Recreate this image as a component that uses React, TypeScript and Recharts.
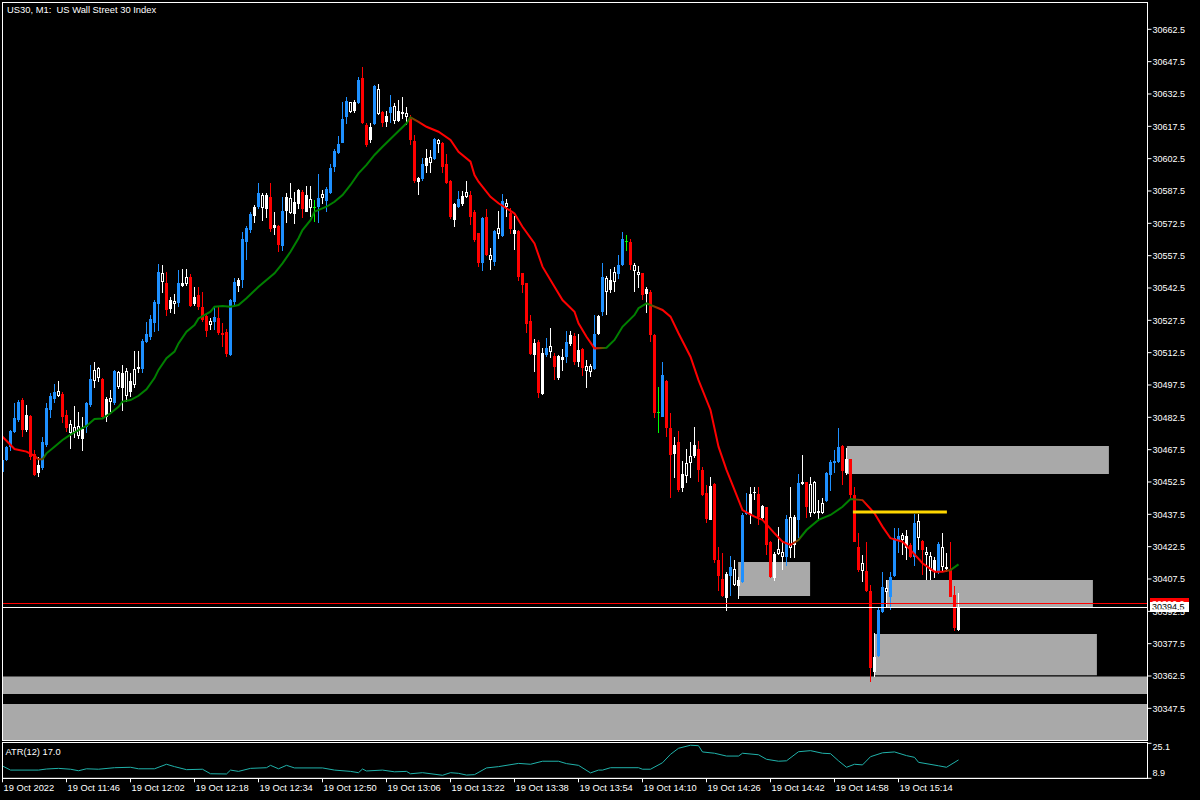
import { ComposedChart, Bar, Line, XAxis, YAxis, ReferenceArea, ReferenceLine } from 'recharts'

const BLUE = '#1E90FF'
const RED = '#FF0000'
const WHITE = '#FFFFFF'
const LIME = '#00FF00'
const ZONE = '#A9A9A9'
const MA_UP = '#008000'
const MA_DN = '#FF0000'
const ATR_COLOR = '#20B2AA'
const FONT = '"Liberation Sans", Arial, sans-serif'

// one row per minute bar, 11:30 .. 15:29 : [open, high, low, close]
const ohlc: number[][] = [
  [30457.1, 30463.6, 30456.7, 30462.7], [30462.7, 30469.2, 30462.4, 30468.9], [30468.9, 30476.6, 30467.0, 30476.1], [30475.8, 30489.0, 30475.2, 30482.0], [30481.3, 30490.5, 30480.5, 30489.7],
  [30490.5, 30491.6, 30473.5, 30476.6], [30476.6, 30488.2, 30475.8, 30483.6], [30483.3, 30483.6, 30462.7, 30464.2], [30465.5, 30467.3, 30455.2, 30455.7], [30456.8, 30464.1, 30455.0, 30460.4],
  [30458.8, 30473.2, 30458.1, 30471.2], [30469.7, 30489.0, 30468.9, 30486.7], [30485.9, 30493.7, 30482.0, 30492.4], [30490.9, 30498.0, 30489.0, 30494.4], [30494.7, 30499.4, 30492.1, 30492.5],
  [30493.3, 30494.4, 30479.7, 30482.8], [30483.6, 30485.9, 30475.8, 30477.4], [30479.4, 30481.3, 30467.8, 30475.4], [30478.2, 30487.8, 30472.9, 30475.8], [30478.5, 30485.0, 30472.4, 30474.0],
  [30472.3, 30482.8, 30467.0, 30477.1], [30478.2, 30489.7, 30475.4, 30489.0], [30488.2, 30506.8, 30487.4, 30500.3], [30504.5, 30508.0, 30495.9, 30499.5], [30505.2, 30506.0, 30498.7, 30500.9],
  [30500.3, 30500.6, 30482.0, 30482.8], [30482.8, 30492.1, 30480.2, 30491.0], [30491.5, 30495.2, 30484.8, 30489.7], [30489.0, 30504.5, 30488.2, 30504.0], [30503.4, 30503.9, 30495.5, 30496.4],
  [30495.9, 30506.8, 30485.6, 30502.9], [30504.0, 30505.5, 30489.7, 30492.4], [30494.4, 30503.2, 30492.1, 30499.4], [30504.9, 30513.3, 30496.2, 30497.5], [30504.9, 30513.3, 30502.9, 30506.0],
  [30504.9, 30518.7, 30503.2, 30517.9], [30517.6, 30526.9, 30517.1, 30521.0], [30519.6, 30530.0, 30518.4, 30528.0], [30526.4, 30536.9, 30522.2, 30536.1], [30535.1, 30553.6, 30522.7, 30550.1],
  [30549.3, 30553.2, 30540.0, 30545.4], [30545.0, 30550.1, 30529.6, 30532.3], [30532.6, 30538.5, 30530.8, 30536.9], [30536.5, 30539.6, 30530.4, 30535.1], [30535.4, 30550.9, 30533.8, 30545.0],
  [30543.6, 30551.2, 30542.8, 30545.0], [30547.5, 30551.2, 30543.4, 30544.2], [30547.5, 30549.0, 30533.5, 30534.3], [30535.1, 30543.1, 30534.3, 30538.5], [30539.3, 30542.8, 30532.3, 30533.5],
  [30533.8, 30540.8, 30526.9, 30527.7], [30529.5, 30530.8, 30519.6, 30522.5], [30527.2, 30528.4, 30523.0, 30525.3], [30526.9, 30533.8, 30523.0, 30528.9], [30528.4, 30533.8, 30520.7, 30521.8],
  [30521.8, 30526.1, 30515.0, 30520.7], [30522.2, 30523.3, 30510.3, 30511.9], [30511.4, 30537.3, 30511.0, 30536.9], [30535.9, 30547.0, 30534.6, 30545.1], [30543.6, 30547.0, 30540.8, 30546.2],
  [30546.2, 30568.6, 30542.3, 30565.2], [30564.0, 30571.3, 30555.5, 30570.2], [30569.4, 30577.9, 30567.9, 30576.8], [30576.0, 30581.0, 30572.8, 30580.2], [30580.2, 30591.1, 30579.0, 30586.4],
  [30585.6, 30586.4, 30573.7, 30579.5], [30579.0, 30586.4, 30574.8, 30585.6], [30584.8, 30591.1, 30568.6, 30569.9], [30570.5, 30577.9, 30567.1, 30571.7], [30571.3, 30571.5, 30559.3, 30562.4],
  [30562.0, 30584.8, 30559.8, 30578.2], [30578.3, 30586.7, 30572.5, 30584.8], [30584.4, 30591.1, 30576.8, 30577.4], [30576.8, 30587.2, 30572.2, 30582.2], [30581.3, 30588.3, 30579.1, 30588.0],
  [30587.0, 30588.0, 30575.1, 30579.0], [30577.9, 30589.8, 30577.6, 30585.6], [30583.6, 30589.8, 30575.6, 30579.7], [30580.2, 30583.3, 30573.3, 30580.2], [30580.2, 30595.4, 30572.5, 30584.4],
  [30586.1, 30588.0, 30581.5, 30584.1], [30583.0, 30589.5, 30577.9, 30588.4], [30586.7, 30600.0, 30586.1, 30598.2], [30598.8, 30606.8, 30596.4, 30606.1], [30605.3, 30613.0, 30604.7, 30609.3],
  [30609.9, 30628.9, 30609.6, 30620.8], [30621.7, 30631.0, 30618.6, 30629.2], [30628.6, 30628.9, 30623.8, 30624.3], [30624.6, 30629.7, 30623.5, 30628.9], [30628.2, 30640.5, 30627.9, 30639.0],
  [30639.8, 30645.2, 30618.6, 30618.9], [30618.1, 30618.9, 30607.8, 30608.8], [30611.2, 30618.9, 30609.6, 30617.3], [30618.6, 30636.7, 30618.1, 30636.2], [30634.8, 30637.1, 30622.7, 30623.2],
  [30624.3, 30624.5, 30617.0, 30618.9], [30619.4, 30624.7, 30617.0, 30622.3], [30623.5, 30632.0, 30618.9, 30626.3], [30627.1, 30628.5, 30618.6, 30620.1], [30620.1, 30629.7, 30619.4, 30624.7],
  [30623.2, 30631.2, 30620.8, 30624.3], [30623.8, 30626.6, 30618.1, 30621.7], [30621.7, 30622.7, 30608.8, 30611.2], [30610.8, 30613.5, 30591.1, 30592.3], [30591.8, 30594.1, 30585.6, 30593.4],
  [30593.1, 30602.7, 30592.3, 30600.0], [30599.1, 30606.8, 30595.7, 30602.7], [30603.4, 30606.5, 30596.0, 30600.6], [30602.2, 30612.2, 30601.9, 30611.5], [30611.2, 30611.5, 30605.0, 30609.2],
  [30609.9, 30610.4, 30596.0, 30598.8], [30600.0, 30604.7, 30590.7, 30591.1], [30592.3, 30592.6, 30574.4, 30575.6], [30574.0, 30581.9, 30570.9, 30581.5], [30580.2, 30587.6, 30579.5, 30583.6],
  [30581.5, 30587.6, 30580.5, 30585.2], [30586.9, 30592.3, 30584.1, 30584.6], [30585.6, 30587.6, 30571.7, 30575.6], [30577.9, 30578.7, 30564.0, 30564.8], [30567.9, 30568.2, 30552.1, 30554.0],
  [30554.0, 30575.3, 30550.5, 30575.1], [30575.6, 30579.1, 30557.3, 30557.8], [30557.8, 30560.9, 30550.9, 30555.5], [30554.7, 30569.4, 30552.7, 30569.1], [30570.5, 30578.2, 30565.2, 30567.5],
  [30566.8, 30586.1, 30566.3, 30583.0], [30581.8, 30583.6, 30575.3, 30579.9], [30577.4, 30579.5, 30567.5, 30569.7], [30567.5, 30575.9, 30560.1, 30569.4], [30568.9, 30569.4, 30545.9, 30547.7],
  [30549.3, 30549.5, 30540.0, 30543.9], [30544.7, 30545.0, 30521.5, 30525.8], [30527.2, 30530.0, 30511.6, 30511.9], [30511.4, 30518.7, 30503.7, 30516.8], [30517.3, 30518.4, 30491.3, 30493.7],
  [30493.3, 30514.5, 30492.9, 30512.2], [30511.4, 30519.2, 30510.3, 30514.8], [30515.6, 30523.8, 30509.9, 30513.0], [30510.9, 30512.2, 30499.8, 30506.0], [30500.6, 30511.2, 30499.8, 30510.9],
  [30509.1, 30514.1, 30504.1, 30510.6], [30510.6, 30522.7, 30507.8, 30517.3], [30516.5, 30522.7, 30515.7, 30520.7], [30520.2, 30521.5, 30506.8, 30508.3], [30508.3, 30521.2, 30506.0, 30513.7],
  [30514.2, 30514.5, 30501.8, 30505.5], [30506.3, 30509.1, 30495.9, 30504.1], [30506.3, 30507.2, 30501.1, 30503.4], [30504.9, 30530.0, 30504.5, 30521.2], [30521.2, 30530.0, 30520.7, 30529.5],
  [30531.5, 30554.2, 30529.5, 30547.7], [30547.3, 30548.1, 30530.0, 30540.8], [30541.6, 30551.2, 30540.0, 30546.2], [30550.1, 30552.4, 30540.8, 30545.4], [30549.0, 30557.8, 30546.7, 30553.2],
  [30553.2, 30568.6, 30552.7, 30565.1], [30564.3, 30567.1, 30559.8, 30564.3], [30563.7, 30565.1, 30550.9, 30553.2], [30553.2, 30554.0, 30540.8, 30550.5], [30549.8, 30552.7, 30542.3, 30548.5],
  [30549.3, 30549.5, 30536.9, 30539.3], [30539.7, 30542.8, 30530.8, 30542.0], [30540.5, 30541.6, 30517.6, 30520.7], [30520.7, 30521.2, 30482.0, 30484.4], [30484.8, 30496.7, 30475.1, 30484.8],
  [30482.8, 30508.3, 30482.5, 30502.1], [30499.4, 30499.6, 30473.2, 30477.4], [30477.4, 30484.4, 30444.9, 30465.0], [30465.5, 30473.5, 30454.2, 30469.7], [30470.9, 30476.3, 30448.0, 30448.8],
  [30449.6, 30462.2, 30448.0, 30456.2], [30461.4, 30467.7, 30451.9, 30455.3], [30464.7, 30471.2, 30454.2, 30461.4], [30464.6, 30478.2, 30463.5, 30469.7], [30467.7, 30471.5, 30452.6, 30458.1],
  [30458.1, 30459.3, 30446.0, 30446.5], [30447.3, 30451.1, 30433.3, 30435.3], [30434.9, 30455.0, 30434.7, 30450.6], [30451.6, 30452.2, 30414.8, 30416.3], [30416.3, 30422.5, 30402.1, 30409.0],
  [30407.4, 30419.7, 30399.3, 30399.6], [30398.8, 30410.9, 30392.6, 30409.8], [30408.9, 30418.3, 30399.6, 30413.2], [30412.1, 30416.3, 30404.4, 30404.7], [30404.4, 30408.5, 30398.2, 30407.0],
  [30406.2, 30438.0, 30405.5, 30437.2], [30437.7, 30447.5, 30437.2, 30438.7], [30437.2, 30450.3, 30432.9, 30446.9], [30447.3, 30450.3, 30444.1, 30448.0], [30446.9, 30450.3, 30432.5, 30436.4],
  [30435.7, 30441.8, 30434.9, 30441.4], [30440.8, 30441.0, 30418.6, 30423.3], [30424.8, 30425.3, 30408.0, 30408.6], [30407.8, 30420.2, 30406.6, 30419.1], [30421.4, 30431.8, 30418.6, 30419.1],
  [30420.2, 30424.8, 30411.7, 30417.6], [30417.8, 30437.2, 30413.7, 30435.3], [30436.4, 30450.3, 30417.1, 30421.7], [30423.3, 30437.2, 30417.1, 30436.4], [30434.9, 30456.2, 30426.4, 30451.9],
  [30451.6, 30465.0, 30451.1, 30452.4], [30452.4, 30452.6, 30435.7, 30440.8], [30451.6, 30455.0, 30436.1, 30438.3], [30452.4, 30453.0, 30437.7, 30438.3], [30438.0, 30444.1, 30434.9, 30439.2],
  [30442.6, 30444.9, 30437.7, 30438.3], [30443.8, 30457.3, 30443.4, 30456.8], [30455.7, 30462.7, 30448.4, 30461.9], [30461.2, 30467.3, 30456.5, 30462.4], [30461.9, 30477.4, 30461.4, 30468.9],
  [30469.2, 30469.5, 30451.1, 30457.7], [30456.8, 30468.1, 30455.7, 30463.0], [30463.0, 30463.2, 30444.1, 30446.5], [30446.5, 30450.3, 30424.5, 30424.8], [30422.5, 30429.0, 30410.9, 30411.7],
  [30414.8, 30418.6, 30406.2, 30411.3], [30411.3, 30424.8, 30401.6, 30402.1], [30402.1, 30404.7, 30359.9, 30366.1], [30364.5, 30382.3, 30362.2, 30371.4], [30371.8, 30393.9, 30371.2, 30393.1],
  [30392.3, 30410.9, 30391.6, 30403.9], [30403.2, 30407.0, 30394.6, 30401.6], [30399.3, 30410.9, 30393.1, 30408.6], [30408.9, 30431.0, 30408.6, 30426.4], [30425.6, 30431.0, 30419.4, 30427.6],
  [30427.9, 30428.7, 30418.6, 30425.6], [30421.7, 30430.2, 30416.3, 30427.4], [30423.3, 30424.3, 30417.1, 30417.6], [30417.8, 30437.7, 30413.7, 30433.3], [30434.4, 30437.7, 30420.9, 30426.4],
  [30425.3, 30425.6, 30409.4, 30420.9], [30419.9, 30422.5, 30407.0, 30418.6], [30418.2, 30420.2, 30407.0, 30411.3], [30410.9, 30417.8, 30407.8, 30416.3], [30410.9, 30424.8, 30409.8, 30423.7],
  [30422.5, 30428.7, 30410.9, 30413.2], [30412.0, 30419.4, 30410.9, 30413.2], [30411.7, 30424.5, 30399.0, 30399.3], [30400.1, 30404.2, 30383.5, 30384.6], [30383.8, 30400.9, 30383.5, 30394.5],
]

// candle colour class per bar: b = blue, r = red, w = plain (filled up / hollow down), g = doji
const kinds =
  'bbbbbrwrrw' + 'bbbbwrrwww' + 'wbbwwrwwbw' + 'wwwwwbbbbb' + 'wrwwbwwrwr' + 'rrwbrrrbbw' +
  'bbbwbwwrwr' + 'bwwwwrwwgb' + 'wbbbbbbwwb' + 'rrwbwrwbww' + 'wwrrwbwwbw' + 'rrrwbwwrrr' +
  'brwbwbwrwr' + 'rrrwrwbwrw' + 'wbwrwrwwbw' + 'bwwwbbgrww' + 'rwrrgbrrwr' + 'wwwwrrrwrr' +
  'rwbwwbbwwr' + 'wrrwwwbwwb' + 'wrwwwwbbbb' + 'rwrrrwrrwb' + 'bwbbbwwrbw' + 'rwwwbwwrrw'

// moving average [bar, value]
const maPoints: number[][] = [
  [0, 30473.5], [3, 30467.8], [6, 30466.6], [8, 30464.6], [9, 30463.0], [10, 30463.0], [11, 30465.8], [13, 30468.9],
  [15, 30472.0], [17, 30474.5], [19, 30476.6], [21, 30478.5], [23, 30481.7], [25, 30482.0], [27, 30484.4], [29, 30487.4],
  [30, 30489.8], [32, 30490.5], [34, 30492.5], [36, 30495.5], [38, 30500.7], [39, 30504.5], [41, 30509.9], [43, 30513.0],
  [44, 30516.8], [46, 30522.2], [48, 30525.3], [49, 30528.4], [52, 30531.5], [53, 30533.8], [55, 30534.1], [57, 30533.8],
  [59, 30534.6], [61, 30537.7], [64, 30543.1], [68, 30549.3], [70, 30553.9], [72, 30559.3], [74, 30565.6], [75, 30569.4],
  [77, 30574.0], [78, 30577.9], [81, 30580.2], [83, 30582.5], [85, 30585.6], [87, 30590.3], [89, 30595.7], [91, 30599.6],
  [93, 30604.2], [95, 30608.0], [98, 30613.5], [101, 30618.9], [102, 30621.7], [104, 30619.6], [106, 30617.3], [109, 30615.0],
  [112, 30611.2], [114, 30605.7], [117, 30601.1], [118, 30594.9], [119, 30591.8], [122, 30584.8], [124, 30581.8], [128, 30577.1],
  [130, 30570.9], [133, 30563.2], [135, 30552.4], [138, 30543.1], [140, 30536.9], [143, 30531.5], [144, 30526.1], [146, 30519.9],
  [148, 30514.5], [151, 30514.8], [153, 30518.4], [155, 30524.5], [158, 30530.0], [159, 30533.1], [161, 30535.4], [164, 30533.1],
  [165, 30532.3], [167, 30529.2], [169, 30521.5], [172, 30510.6], [174, 30499.8], [177, 30485.9], [179, 30468.9], [181, 30458.1],
  [183, 30448.8], [185, 30439.5], [188, 30436.4], [190, 30434.9], [193, 30428.7], [195, 30424.8], [197, 30423.3], [199, 30425.6],
  [201, 30430.2], [204, 30434.9], [207, 30437.2], [210, 30441.0], [212, 30444.6], [215, 30444.1], [218, 30438.0], [220, 30431.8],
  [222, 30426.4], [225, 30424.8], [227, 30421.0], [230, 30414.8], [233, 30410.9], [235, 30410.9], [237, 30411.7], [239, 30414.3],
]

// where the average turns: [bar, direction]
const maSlope: [number, string][] = [
  [0, 'dn'], [8, 'dn'], [11, 'up'], [101, 'up'], [105, 'dn'], [148, 'dn'], [151, 'up'], [161, 'up'],
  [165, 'dn'], [197, 'dn'], [200, 'up'], [212, 'up'], [216, 'dn'], [235, 'dn'], [238, 'up'], [239, 'up'],
]

const atrPoints: number[][] = [
  [0, 14.6], [2, 12.7], [9, 12.7], [11, 13.2], [14, 13.5], [17, 13.1], [19, 12.4], [21, 13.3], [24, 13.1], [28, 13.8],
  [32, 14.0], [34, 13.3], [38, 13.3], [41, 15.4], [43, 14.3], [46, 12.9], [50, 13.1], [52, 11.0], [56, 10.9], [57, 12.7],
  [59, 12.1], [62, 13.5], [66, 13.8], [67, 14.9], [69, 13.3], [71, 14.9], [73, 13.7], [80, 13.7], [83, 12.7], [87, 12.1],
  [89, 11.5], [90, 13.2], [91, 12.3], [95, 12.7], [98, 11.9], [101, 12.1], [102, 11.0], [105, 11.5], [110, 10.3], [112, 11.5],
  [114, 11.2], [116, 10.4], [118, 10.6], [121, 13.7], [124, 14.3], [129, 15.8], [132, 15.4], [135, 16.8], [139, 16.8], [141, 15.7],
  [144, 14.9], [147, 11.4], [149, 12.7], [150, 12.7], [152, 13.8], [159, 13.8], [160, 13.1], [162, 13.1], [165, 16.1], [167, 20.0],
  [169, 22.8], [172, 24.2], [174, 24.0], [175, 21.1], [178, 20.5], [181, 19.2], [184, 19.2], [185, 20.5], [189, 19.8], [191, 17.7],
  [194, 16.8], [196, 17.0], [199, 21.2], [202, 21.7], [205, 20.5], [207, 20.3], [209, 17.0], [211, 14.0], [213, 15.4], [215, 15.1],
  [217, 18.9], [220, 20.7], [223, 21.1], [226, 19.4], [228, 18.6], [229, 16.3], [234, 14.7], [236, 14.0], [239, 17.4],
]

// supply / demand zones: [fromBar, toBar, low, high]
const zones: number[][] = [
  [0.125, 286.25, 30332.8, 30349.5],
  [0.125, 286.25, 30354.2, 30362.3],
  [218.1, 273.6, 30362.9, 30382.0],
  [220.9, 272.6, 30394.0, 30407.0],
  [183.9, 201.9, 30399.6, 30415.4],
  [211.1, 276.6, 30456.2, 30469.2],
]
const levelLine = { from: 212.6, to: 236.1, price: 30438.6 }
const bid = 30394.5
const ask = 30396.2

const priceTicks = [
  30347.5, 30362.5, 30377.5, 30392.5, 30407.5, 30422.5, 30437.5, 30452.5, 30467.5, 30482.5, 30497.5,
  30512.5, 30527.5, 30542.5, 30557.5, 30572.5, 30587.5, 30602.5, 30617.5, 30632.5, 30647.5, 30662.5,
]
const timeTicks = [0, 16, 32, 48, 64, 80, 96, 112, 128, 144, 160, 176, 192, 208, 224]
const timeLabels = [
  '19 Oct 2022', '19 Oct 11:46', '19 Oct 12:02', '19 Oct 12:18', '19 Oct 12:34', '19 Oct 12:50', '19 Oct 13:06',
  '19 Oct 13:22', '19 Oct 13:38', '19 Oct 13:54', '19 Oct 14:10', '19 Oct 14:26', '19 Oct 14:42', '19 Oct 14:58', '19 Oct 15:14',
]
const atrTicks = [8.9, 25.1]

const X_DOMAIN: [number, number] = [0.125, 286.25]
const PRICE_DOMAIN: [number, number] = [30332.81, 30674.71]

const maMap = new Map(maPoints.map(([i, v]) => [i, v]))
const rows = ohlc.map(([o, h, l, c], i) => ({ i, o, h, l, c, k: kinds[i], ma: maMap.has(i) ? maMap.get(i) : null }))
const atrRows = atrPoints.map(([i, v]) => ({ i, v }))
const maFirst = maPoints[0][0]
const maLast = maPoints[maPoints.length - 1][0]

function Candle(props: any) {
  const { x, y, width, height, payload } = props
  if (!payload) return null
  const { o, h, l, c, k } = payload
  const top = Math.min(y, y + height)
  const bot = Math.max(y, y + height)
  const ppu = h > l ? (bot - top) / (h - l) : 0
  const py = (p: number) => top + (h - p) * ppu
  const cx = Math.floor(x + width / 2)
  const color = k === 'b' ? BLUE : k === 'r' ? RED : k === 'g' ? LIME : WHITE
  const bt = Math.round(py(Math.max(o, c)))
  const bb = Math.round(py(Math.min(o, c)))
  const bh = Math.max(1, bb - bt)
  const hollow = k === 'w' && c < o
  const wt = Math.round(top)
  return (
    <g shapeRendering="crispEdges">
      <rect x={cx} y={wt} width={1} height={Math.max(1, Math.round(bot) - wt)} fill={color} />
      {hollow && bh > 2 ? (
        <rect x={cx - 0.5} y={bt + 0.5} width={2} height={bh - 1} fill="#000" stroke={color} strokeWidth={1} />
      ) : (
        <rect x={cx - 1} y={bt} width={3} height={bh} fill={color} />
      )}
    </g>
  )
}

function PriceTag(props: any) {
  const { viewBox, bg, fg, text } = props
  if (!viewBox) return null
  const left = viewBox.x + viewBox.width + 2.5
  return (
    <g>
      <rect x={left} y={Math.round(viewBox.y) - 5} width={39} height={10} fill={bg} shapeRendering="crispEdges" />
      <text x={left + 2} y={viewBox.y} dy="0.35em" fill={fg} fontSize={9} fontFamily={FONT}>{text}</text>
    </g>
  )
}

function TimeTick(props: any) {
  const { x, y, payload } = props
  const idx = timeTicks.indexOf(payload.value)
  return (
    <text x={x + 1} y={y} dy={7} fill={WHITE} fontSize={9.3} fontFamily={FONT} textAnchor="start">
      {timeLabels[idx]}
    </text>
  )
}

function AtrTick(props: any) {
  const { x, y, payload } = props
  const isTop = payload.value === atrTicks[1]
  return (
    <text x={x} y={isTop ? y + 4 : y - 5} dy="0.35em" fill={WHITE} fontSize={9} fontFamily={FONT} textAnchor="start">
      {payload.value.toFixed(1)}
    </text>
  )
}

export default function App() {
  return (
    <div style={{ position: 'fixed', left: 0, top: 0, width: 1200, height: 800, background: '#000', fontFamily: FONT, overflow: 'hidden' }}>
      <div style={{ position: 'absolute', left: 0, top: 0 }}>
        <ComposedChart width={1200} height={741} data={rows} margin={{ top: 3, right: 0, bottom: 1, left: 3 }}>
          <defs>
            <linearGradient id="maGrad" x1="0" y1="0" x2="1" y2="0">
              {maSlope.map(([j, d], n) => (
                <stop key={n} offset={(j - maFirst) / (maLast - maFirst)} stopColor={d === 'up' ? MA_UP : MA_DN} />
              ))}
            </linearGradient>
          </defs>
          <XAxis dataKey="i" type="number" domain={X_DOMAIN} allowDataOverflow hide />
          <YAxis
            orientation="right"
            type="number"
            domain={PRICE_DOMAIN}
            allowDataOverflow
            ticks={priceTicks}
            interval={0}
            width={52.5}
            tickSize={4}
            tickMargin={1}
            tick={{ fill: WHITE, fontSize: 9, fontFamily: FONT }}
            tickFormatter={(v: number) => v.toFixed(1)}
            axisLine={{ stroke: WHITE }}
            tickLine={{ stroke: WHITE }}
          />
          {zones.map(([x1, x2, y1, y2], n) => (
            <ReferenceArea key={n} x1={x1} x2={x2} y1={y1} y2={y2} fill={ZONE} fillOpacity={1} stroke="none" ifOverflow="hidden" />
          ))}
          <Bar dataKey={(d: any) => [d.l, d.h]} barSize={3} shape={(p: any) => <Candle {...p} />} isAnimationActive={false} />
          <Line dataKey="ma" stroke="url(#maGrad)" strokeWidth={2} dot={false} connectNulls isAnimationActive={false} />
          <ReferenceLine
            segment={[{ x: levelLine.from, y: levelLine.price }, { x: levelLine.to, y: levelLine.price }]}
            stroke="#FFD700"
            strokeWidth={3}
          />
          <ReferenceLine y={ask} stroke={RED} strokeWidth={1} shapeRendering="crispEdges" label={<PriceTag bg={RED} fg={WHITE} text={ask.toFixed(1)} />} />
          <ReferenceLine y={bid} stroke={WHITE} strokeWidth={1} shapeRendering="crispEdges" label={<PriceTag bg={WHITE} fg="#000" text={bid.toFixed(1)} />} />
        </ComposedChart>
      </div>
      <div style={{ position: 'absolute', left: 0, top: 740 }}>
        <ComposedChart width={1200} height={60} data={atrRows} margin={{ top: 3.3, right: 0, bottom: 0, left: 3 }}>
          <XAxis
            dataKey="i"
            type="number"
            domain={X_DOMAIN}
            allowDataOverflow
            ticks={timeTicks}
            interval={0}
            height={21.7}
            tickSize={4}
            tickMargin={2}
            axisLine={{ stroke: WHITE }}
            tickLine={{ stroke: WHITE }}
            tick={(p: any) => <TimeTick {...p} />}
          />
          <YAxis
            orientation="right"
            type="number"
            domain={atrTicks}
            allowDataOverflow
            ticks={atrTicks}
            interval={0}
            width={52.5}
            tickSize={4}
            tickMargin={1}
            axisLine={{ stroke: WHITE }}
            tickLine={{ stroke: WHITE }}
            tick={(p: any) => <AtrTick {...p} />}
          />
          <Line dataKey="v" stroke={ATR_COLOR} strokeWidth={1} dot={false} isAnimationActive={false} />
        </ComposedChart>
      </div>
      <svg width={1200} height={800} style={{ position: 'absolute', left: 0, top: 0, pointerEvents: 'none' }}>
        <rect x={2.5} y={2.5} width={1145} height={738} fill="none" stroke={WHITE} strokeWidth={1} />
        <rect x={2.5} y={742.5} width={1145} height={36} fill="none" stroke={WHITE} strokeWidth={1} />
        <text x={7} y={13.3} fill={WHITE} fontSize={9.4} fontFamily={FONT} style={{ whiteSpace: 'pre' }}>
          {'US30, M1:  US Wall Street 30 Index'}
        </text>
        <text x={5.5} y={755} fill={WHITE} fontSize={9.3} fontFamily={FONT}>ATR(12) 17.0</text>
      </svg>
    </div>
  )
}
